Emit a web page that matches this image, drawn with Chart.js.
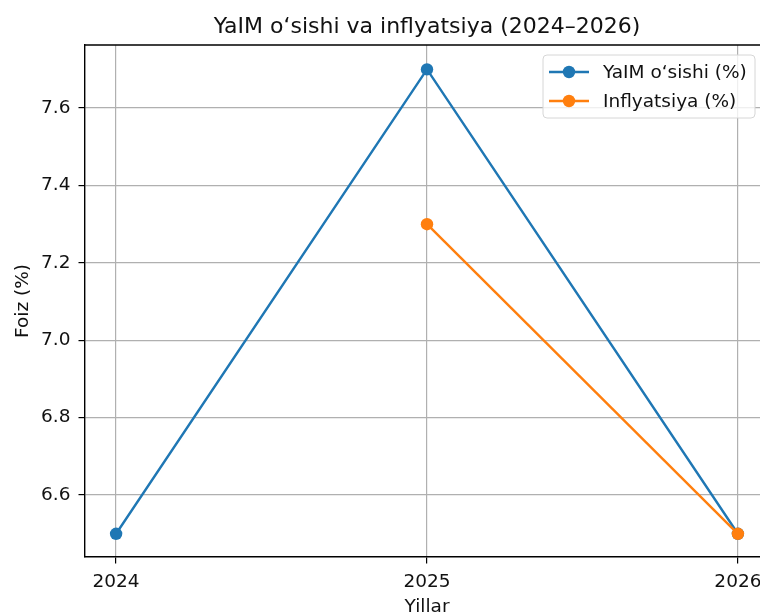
<!DOCTYPE html>
<html>
<head>
<meta charset="utf-8">
<script src="https://cdn.jsdelivr.net/npm/chart.js@4"></script>
<style>
  body { margin: 0; background: #fff; overflow: hidden; }
  #box { width: 780px; height: 612px; position: relative; }
</style>
</head>
<body>
<div id="box"><canvas id="chart-line"></canvas></div>
<script>
// ____ data ____
const years = [2024, 2025, 2026];
const yalim = [6.5, 7.7, 6.5];
const inflyatsiya = [null, 7.3, 6.5];
const yTicks = [6.6, 6.8, 7.0, 7.2, 7.4, 7.6];
const seriesLabels = ['YaIM o‘sishi (%)', 'Inflyatsiya (%)'];
const titleText = 'YaIM o‘sishi va inflyatsiya (2024–2026)';

const blue = '#1f77b4';
const orange = '#ff7f0e';
const font = 'DejaVu Sans';
const textColor = '#111';

function points(values) {
    return years.map(function (y, i) { return { x: y, y: values[i] }; });
}

// title, axis names, top spine and legend drawn like matplotlib
const extras = {
    id: 'extras',
    afterDraw(chart) {
        const ctx = chart.ctx;
        const a = chart.chartArea;
        ctx.save();
        ctx.strokeStyle = '#000';
        ctx.lineWidth = 1.4;
        ctx.beginPath();
        ctx.moveTo(a.left, a.top);
        ctx.lineTo(a.right, a.top);
        ctx.lineTo(a.right, a.bottom);
        ctx.stroke();

        ctx.fillStyle = textColor;
        ctx.textAlign = 'center';
        ctx.textBaseline = 'alphabetic';
        ctx.font = '22px "' + font + '"';
        ctx.fillText(titleText, (a.left + a.right) / 2, 33);

        ctx.font = '18.5px "' + font + '"';
        ctx.fillText('Yillar', (a.left + a.right) / 2, 612);
        ctx.save();
        ctx.translate(28, (a.top + a.bottom) / 2);
        ctx.rotate(-Math.PI / 2);
        ctx.fillText('Foiz (%)', 0, 0);
        ctx.restore();

        // legend box
        const lx = 543, ly = 55, lw = 212, lh = 63, r = 4;
        ctx.beginPath();
        ctx.moveTo(lx + r, ly);
        ctx.arcTo(lx + lw, ly, lx + lw, ly + lh, r);
        ctx.arcTo(lx + lw, ly + lh, lx, ly + lh, r);
        ctx.arcTo(lx, ly + lh, lx, ly, r);
        ctx.arcTo(lx, ly, lx + lw, ly, r);
        ctx.closePath();
        ctx.fillStyle = 'rgba(255,255,255,0.8)';
        ctx.fill();
        ctx.strokeStyle = '#d6d6d6';
        ctx.lineWidth = 1;
        ctx.stroke();

        chart.data.datasets.forEach(function (ds, i) {
            const y = 72 + i * 29;
            ctx.strokeStyle = ds.borderColor;
            ctx.lineWidth = 2.4;
            ctx.beginPath();
            ctx.moveTo(549, y);
            ctx.lineTo(589, y);
            ctx.stroke();
            ctx.fillStyle = ds.backgroundColor;
            ctx.beginPath();
            ctx.arc(569, y, 6.2, 0, Math.PI * 2);
            ctx.fill();
            ctx.fillStyle = textColor;
            ctx.textAlign = 'left';
            ctx.textBaseline = 'middle';
            ctx.font = '18.5px "' + font + '"';
            ctx.fillText(ds.label, 603, y + 1);
        });
        ctx.restore();
    }
};

new Chart(
    document.getElementById('chart-line'),
    {
        type: 'line',
        data: {
            datasets: [{
                label: seriesLabels[0],
                data: points(yalim),
                borderColor: blue,
                backgroundColor: blue,
                borderWidth: 2.4,
                pointRadius: 6.2,
                pointBorderWidth: 0,
                tension: 0,
                order: 1
            }, {
                label: seriesLabels[1],
                data: points(inflyatsiya),
                borderColor: orange,
                backgroundColor: orange,
                borderWidth: 2.4,
                pointRadius: 6.2,
                pointBorderWidth: 0,
                tension: 0,
                order: 0
            }]
        },
        options: {
            responsive: true,
            maintainAspectRatio: false,
            animation: false,
            layout: { padding: { left: 0, top: 45, right: 11, bottom: 0 } },
            plugins: { legend: { display: false }, title: { display: false }, tooltip: { enabled: false } },
            scales: {
                x: {
                    type: 'linear',
                    min: 2023.9,
                    max: 2026.1,
                    afterBuildTicks: function (s) { s.ticks = years.map(function (v) { return { value: v }; }); },
                    afterFit: function (s) { s.height = 55; },
                    ticks: {
                        color: textColor,
                        font: { family: font, size: 18.5 },
                        padding: 8,
                        maxRotation: 0,
                        callback: function (v) { return String(v); }
                    },
                    grid: { color: '#b0b0b0', lineWidth: 1.2, tickColor: '#000', tickLength: 6.5 },
                    border: { color: '#000', width: 1.4 }
                },
                y: {
                    min: 6.44,
                    max: 7.763,
                    afterBuildTicks: function (s) { s.ticks = yTicks.map(function (v) { return { value: v }; }); },
                    afterFit: function (s) { s.width = 85; },
                    ticks: {
                        color: textColor,
                        font: { family: font, size: 18.5 },
                        padding: 8,
                        callback: function (v) { return v.toFixed(1); }
                    },
                    grid: { color: '#b0b0b0', lineWidth: 1.2, tickColor: '#000', tickLength: 6.5 },
                    border: { color: '#000', width: 1.4 }
                }
            }
        },
        plugins: [extras]
    }
);
</script>
</body>
</html>
